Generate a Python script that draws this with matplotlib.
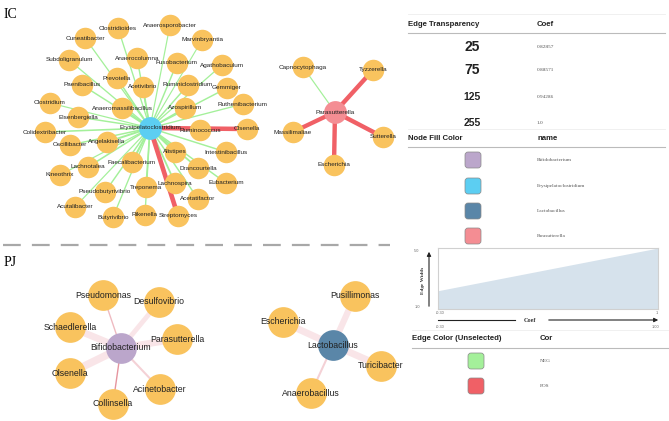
import numpy as np
import matplotlib.pyplot as plt
from matplotlib.patches import FancyBboxPatch

plt.rcParams['font.family'] = ['Liberation Sans', 'DejaVu Sans']

# ---- data -------------------------------------------------------------
# IC: hub Erysipelatoclostridium
ic_hub = 'Erysipelatoclostridium'
ic_partners = ['Clostridioides', 'Anaerosporobacter', 'Cuneatibacter', 'Marvinbryantia',
               'Subdoligranulum', 'Anaerocolumna', 'Fusobacterium', 'Agathobaculum',
               'Prevotella', 'Paenibacillus', 'Acetivibrio', 'Ruminiclostridium',
               'Gemmiger', 'Ruthenibacterium', 'Clostridium', 'Anaeromassilibacillus',
               'Azospirillum', 'Eisenbergiella', 'Colidextribacter', 'Ruminococcus',
               'Olsenella', 'Oscillibacter', 'Angelakisella', 'Alistipes',
               'Intestinibacillus', 'Lachnotalea', 'Faecalibacterium', 'Drancourtella',
               'Kineothrix', 'Eubacterium', 'Lachnospira', 'Pseudobutyrivibrio',
               'Treponema', 'Acetatifactor', 'Acutalibacter', 'Butyrivibrio',
               'Rikenella', 'Streptomyces']
ic_cor = ['NEG'] * 38
ic_cor[20] = 'POS'   # Olsenella
ic_cor[37] = 'POS'   # Streptomyces
ic_coef = [0.38, 0.36, 0.37, 0.35, 0.38, 0.40, 0.40, 0.37, 0.42, 0.40, 0.42, 0.40,
           0.40, 0.38, 0.36, 0.45, 0.42, 0.40, 0.42, 0.45, 0.88, 0.40, 0.48, 0.50,
           0.40, 0.42, 0.50, 0.45, 0.36, 0.40, 0.45, 0.40, 0.42, 0.40, 0.36, 0.38,
           0.38, 0.90]

# IC: hub Parasutterella
ic2_hub = 'Parasutterella'
ic2_partners = ['Capnocytophaga', 'Tyzzerella', 'Massilimaliae', 'Sutterella', 'Escherichia']
ic2_cor = ['NEG', 'POS', 'POS', 'POS', 'POS']
ic2_coef = [0.36, 0.86, 0.84, 0.86, 0.86]

# PJ: hub Bifidobacterium
pj_hub = 'Bifidobacterium'
pj_partners = ['Pseudomonas', 'Desulfovibrio', 'Schaedlerella', 'Parasutterella',
               'Olsenella', 'Acinetobacter', 'Collinsella']
pj_coef = [0.92, 0.845, 0.845, 0.845, 0.845, 0.88, 0.96]
pj_weight = [1.0, 3.5, 5.0, 5.0, 5.5, 1.5, 1.0]

# PJ: hub Lactobacillus
pj2_hub = 'Lactobacillus'
pj2_partners = ['Pusillimonas', 'Escherichia', 'Turicibacter', 'Anaerobacillus']
pj2_coef = [0.845, 0.845, 0.845, 0.88]
pj2_weight = [4.5, 5.0, 5.0, 1.5]

# legends
transp_levels = [25, 75, 125, 255]
transp_coef = [0.82857, 0.88571, 0.94286, 1.0]
fill_names = ['Bifidobacterium', 'Erysipelatoclostridium', 'Lactobacillus', 'Parasutterella']
cor_names = ['NEG', 'POS']
width_coef = [-0.30, 1.0]
width_vals = [2.2, 5.0]

# ---- layout (pixel space) ---------------------------------------------
ic_pos = {
    'Erysipelatoclostridium': (150, 128),
    'Clostridioides': (118, 28), 'Anaerosporobacter': (170, 25), 'Cuneatibacter': (85, 38),
    'Marvinbryantia': (202, 40), 'Subdoligranulum': (69, 60), 'Anaerocolumna': (137, 58),
    'Fusobacterium': (177, 63), 'Agathobaculum': (222, 65), 'Prevotella': (117, 78),
    'Paenibacillus': (82, 85), 'Acetivibrio': (143, 87), 'Ruminiclostridium': (188, 85),
    'Gemmiger': (227, 88), 'Ruthenibacterium': (243, 104), 'Clostridium': (50, 103),
    'Anaeromassilibacillus': (122, 108), 'Azospirillum': (185, 108), 'Eisenbergiella': (78, 117),
    'Colidextribacter': (45, 132), 'Ruminococcus': (200, 130), 'Olsenella': (247, 129),
    'Oscillibacter': (70, 145), 'Angelakisella': (107, 142), 'Alistipes': (175, 152),
    'Intestinibacillus': (226, 152), 'Lachnotalea': (88, 167), 'Faecalibacterium': (132, 162),
    'Drancourtella': (198, 168), 'Kineothrix': (60, 175), 'Eubacterium': (226, 183),
    'Lachnospira': (175, 183), 'Pseudobutyrivibrio': (105, 192), 'Treponema': (146, 187),
    'Acetatifactor': (198, 199), 'Acutalibacter': (75, 207), 'Butyrivibrio': (113, 217),
    'Rikenella': (145, 215), 'Streptomyces': (178, 216),
}
ic2_pos = {
    'Parasutterella': (335, 112), 'Capnocytophaga': (303, 67), 'Tyzzerella': (373, 70),
    'Massilimaliae': (293, 132), 'Sutterella': (383, 137), 'Escherichia': (334, 165),
}
pj_pos = {
    'Bifidobacterium': (121, 348), 'Pseudomonas': (103, 295), 'Desulfovibrio': (159, 302),
    'Schaedlerella': (70, 327), 'Parasutterella': (177, 339), 'Olsenella': (70, 373),
    'Acinetobacter': (160, 389), 'Collinsella': (113, 404),
}
pj2_pos = {
    'Lactobacillus': (333, 345), 'Pusillimonas': (355, 296), 'Escherichia': (283, 322),
    'Turicibacter': (381, 366), 'Anaerobacillus': (311, 393),
}

hub_colors = dict(zip(fill_names, ['#BBA6CB', '#5CCEF2', '#5A86A8', '#F48D93']))
cor_colors = dict(zip(cor_names, ['#A4F09A', '#F06066']))
node_color = '#F9C35E'


def coef_to_width(c):
    return 0.6 + 3.2 * (abs(c) - 0.3) / 0.7


def coef_to_alpha(c):
    return np.interp(c, transp_coef, transp_levels) / 255


fig = plt.figure(figsize=(6.69, 4.21), dpi=100)
ax = fig.add_axes([0, 0, 1, 1])
ax.set_xlim(0, 669)
ax.set_ylim(421, 0)
ax.axis('off')


def draw_net(hub, partners, pos, colors, widths, alphas, size, hub_size, fs):
    hx, hy = pos[hub]
    for p, c, w, a in zip(partners, colors, widths, alphas):
        px, py = pos[p]
        ax.plot([hx, px], [hy, py], color=c, lw=w, alpha=a, zorder=1,
                solid_capstyle='butt')
    xs = [pos[p][0] for p in partners]
    ys = [pos[p][1] for p in partners]
    ax.scatter(xs, ys, s=size, color=node_color, zorder=2, linewidths=0)
    ax.scatter([hx], [hy], s=hub_size, color=hub_colors[hub], zorder=3, linewidths=0)
    for p in partners:
        ax.text(pos[p][0], pos[p][1], p, fontsize=fs, ha='center', va='center',
                color='#222222', zorder=4)
    ax.text(hx, hy, hub, fontsize=fs, ha='center', va='center', color='#222222', zorder=4)


draw_net(ic_hub, ic_partners, ic_pos, [cor_colors[c] for c in ic_cor],
         [coef_to_width(c) for c in ic_coef], [1.0] * len(ic_partners), 240, 270, 4.6)
draw_net(ic2_hub, ic2_partners, ic2_pos, [cor_colors[c] for c in ic2_cor],
         [coef_to_width(c) for c in ic2_coef], [1.0] * len(ic2_partners), 240, 270, 4.6)
draw_net(pj_hub, pj_partners, pj_pos, ['#D85A6A'] * len(pj_partners),
         pj_weight, [coef_to_alpha(c) for c in pj_coef], 490, 490, 6.3)
draw_net(pj2_hub, pj2_partners, pj2_pos, ['#D85A6A'] * len(pj2_partners),
         pj2_weight, [coef_to_alpha(c) for c in pj2_coef], 490, 490, 6.3)

# section labels and divider
ax.text(4, 15, 'IC', fontsize=10, family='Liberation Serif', va='center', ha='left')
ax.text(4, 262, 'PJ', fontsize=10, family='Liberation Serif', va='center', ha='left')
ax.plot([3, 390], [245, 245], color='#A8A8A8', lw=1.6, ls=(0, (8, 5)))

# ---- legend panel -------------------------------------------------------
hdr = dict(fontsize=5.6, fontweight='bold', va='center', ha='left', color='#222222')
small = dict(fontsize=3.8, va='center', ha='left', family='Liberation Serif', color='#555555')

ax.plot([408, 665], [14, 14], color='#EEEEEE', lw=0.6)
ax.text(408, 25, 'Edge Transparency', **hdr)
ax.text(537, 25, 'Coef', **hdr)
ax.plot([408, 665], [33, 33], color='#BBBBBB', lw=0.8)
row_y = [47, 70, 97, 123]
big = [10, 10, 7.5, 7.5]
for y, lev, c, f in zip(row_y, transp_levels, transp_coef, big):
    ax.text(472, y, str(lev), fontsize=f, fontweight='bold', ha='center', va='center',
            color='#222222')
    ax.text(537, y, str(c), **small)

ax.plot([408, 665], [129, 129], color='#EEEEEE', lw=0.6)
ax.text(408, 138, 'Node Fill Color', **hdr)
ax.text(537, 138, 'name', **hdr)
ax.plot([408, 665], [147, 147], color='#BBBBBB', lw=0.8)
for y, nm in zip([160, 186, 211, 236], fill_names):
    ax.add_patch(FancyBboxPatch((465, y - 8), 16, 16, boxstyle='round,pad=0,rounding_size=3',
                                fc=hub_colors[nm], ec='#888888', lw=0.5))
    ax.text(537, y, nm, **small)

# edge width mapping chart
iax = fig.add_axes([438 / 669, 1 - 309 / 421, 220 / 669, 61 / 421])
iax.fill_between(width_coef, width_vals, 1.0, color='#D6E2EC', lw=0)
iax.set_xlim(width_coef[0], width_coef[1])
iax.set_ylim(1.0, 5.0)
iax.set_xticks([])
iax.set_yticks([])
for s in iax.spines.values():
    s.set_color('#D0D0D0')
    s.set_linewidth(0.8)

ax.annotate('', xy=(429, 249), xytext=(429, 309),
            arrowprops=dict(arrowstyle='-|>', color='#222222', lw=0.8, mutation_scale=6))
ax.text(423, 280, 'Edge Width', rotation=90, fontsize=3.8, fontweight='bold',
        ha='center', va='center', family='Liberation Serif', color='#333333')
ax.text(417, 251, '5.0', fontsize=2.8, ha='center', va='center', color='#666666')
ax.text(417, 307, '1.0', fontsize=2.8, ha='center', va='center', color='#666666')
ax.text(440, 313, '-0.30', fontsize=2.8, ha='center', va='center', color='#666666')
ax.text(657, 313, '1', fontsize=2.8, ha='center', va='center', color='#666666')
ax.plot([438, 515], [320, 320], color='#222222', lw=0.8)
ax.annotate('', xy=(661, 320), xytext=(546, 320),
            arrowprops=dict(arrowstyle='-|>', color='#222222', lw=0.8, mutation_scale=6))
ax.text(530, 320, 'Coef', fontsize=4.5, fontweight='bold', ha='center', va='center',
        family='Liberation Serif', color='#333333')
ax.text(440, 327, '-0.30', fontsize=2.8, ha='center', va='center', color='#666666')
ax.text(655, 327, '1.00', fontsize=2.8, ha='center', va='center', color='#666666')

ax.plot([412, 669], [330, 330], color='#EEEEEE', lw=0.6)
ax.text(412, 339, 'Edge Color (Unselected)', **hdr)
ax.text(540, 339, 'Cor', **hdr)
ax.plot([412, 669], [348, 348], color='#BBBBBB', lw=0.8)
for y, nm in zip([361, 386], cor_names):
    ax.add_patch(FancyBboxPatch((468, y - 8), 16, 16, boxstyle='round,pad=0,rounding_size=3',
                                fc=cor_colors[nm], ec='#888888', lw=0.5))
    ax.text(540, y, nm, **small)

fig.savefig('out.png', dpi=100)
